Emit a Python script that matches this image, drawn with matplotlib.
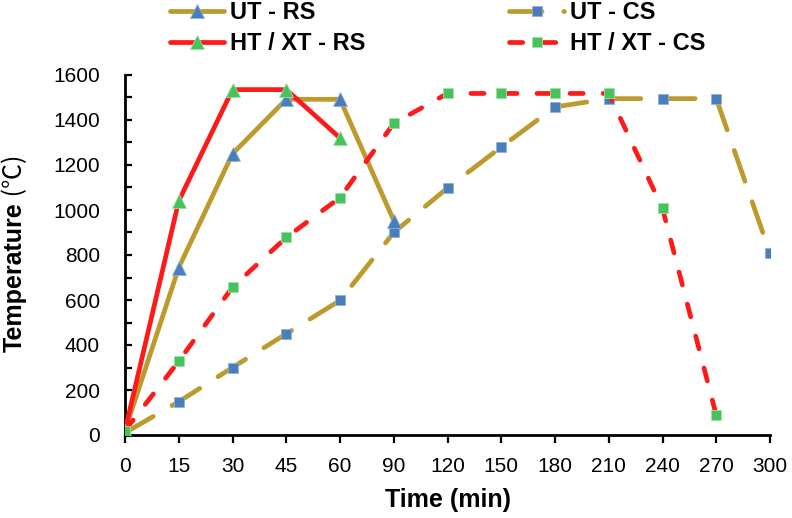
import matplotlib
matplotlib.use("Agg")
import matplotlib.pyplot as plt
from matplotlib.ticker import MultipleLocator

# ---- data ----
time_labels = ["0", "15", "30", "45", "60", "90", "120", "150", "180", "210", "240", "270", "300"]
ut_rs = [20, 744, 1250, 1492, 1492, 953]
ht_rs = [20, 1040, 1535, 1535, 1320]
ut_cs = [10, 148, 300, 450, 598, 900, 1098, 1280, 1458, 1495, 1495, 1495, 808]
ht_cs = [20, 328, 657, 878, 1055, 1385, 1518, 1518, 1518, 1518, 1007, 88]

gold = "#BC9A2C"
red = "#FF1A1A"
blue = "#4A7EBB"
green = "#46C35A"

plt.rcParams['font.family'] = ['Liberation Sans', 'Noto Sans CJK SC', 'DejaVu Sans']

fig = plt.figure(figsize=(7.92, 5.18), dpi=100)
W, H = 792, 518
ax = fig.add_axes([125 / W, 1 - 435 / H, (770 - 125) / W, (435 - 75) / H])

x_all = list(range(len(time_labels)))
lw = 3.4
common = dict(lw=lw, solid_capstyle='round', solid_joinstyle='round',
              dash_capstyle='round', dash_joinstyle='round')

l_utcs, = ax.plot(x_all[:len(ut_cs)], ut_cs, color=gold, dashes=(6.9, 4.6),
                  marker='s', ms=6.5, mfc=blue, mec='#8FB0DA', mew=0.6, label="UT - CS", zorder=3, **common)
l_utrs, = ax.plot(x_all[:len(ut_rs)], ut_rs, color=gold,
                  marker='^', ms=10, mfc=blue, mec='#8FB0DA', mew=0.6, label="UT - RS", zorder=4, **common)
l_htrs, = ax.plot(x_all[:len(ht_rs)], ht_rs, color=red,
                  marker='^', ms=10, mfc=green, mec='#9BE0A5', mew=0.6, label="HT / XT - RS", zorder=5, **common)
l_htcs, = ax.plot(x_all[:len(ht_cs)], ht_cs, color=red, dashes=(2.8, 4.2),
                  marker='s', ms=6.5, mfc=green, mec='#9BE0A5', mew=0.6, label="HT / XT - CS", zorder=6, **common)

ax.set_xlim(0, len(time_labels) - 1)
ax.set_ylim(0, 1600)
ax.set_xticks(x_all)
ax.set_xticklabels(time_labels)
ax.yaxis.set_major_locator(MultipleLocator(200))
ax.yaxis.set_minor_locator(MultipleLocator(100))

for s in ['top', 'right']:
    ax.spines[s].set_visible(False)
for s in ['left', 'bottom']:
    ax.spines[s].set_linewidth(2.0)
    ax.spines[s].set_color('black')

ax.tick_params(axis='y', which='both', direction='in', length=5, width=1.6, labelsize=15, pad=18)
ax.tick_params(axis='x', which='major', direction='out', length=6, width=1.6, labelsize=15, pad=10)

ax.set_xlabel("Time (min)", fontsize=18, fontweight='bold')
ax.xaxis.set_label_coords(0.5, -0.18)
ax.xaxis.label.set_va('center')

# y label: bold "Temperature" followed by a regular-weight "(℃)"
t1 = ax.text(-0.171, (435 - 352) / 360, "Temperature", rotation=90, transform=ax.transAxes,
             ha='center', va='bottom', fontsize=18, fontweight='bold')
ax.annotate(" (℃)", xy=(0.5, 1.0), xycoords=t1, rotation=90, ha='center', va='bottom',
            fontsize=18, fontweight='normal', family=['Noto Sans CJK SC', 'DejaVu Sans'],
            annotation_clip=False)

leg = fig.legend(handles=[l_utrs, l_htrs, l_utcs, l_htcs], ncol=2, frameon=False,
                 loc='upper left', bbox_to_anchor=(158 / W, 1.02),
                 prop={'weight': 'bold', 'size': 17}, handlelength=2.3, handletextpad=0.25,
                 columnspacing=6.1, labelspacing=0.32, borderpad=0, numpoints=1)

fig.savefig("out.png", dpi=100)
